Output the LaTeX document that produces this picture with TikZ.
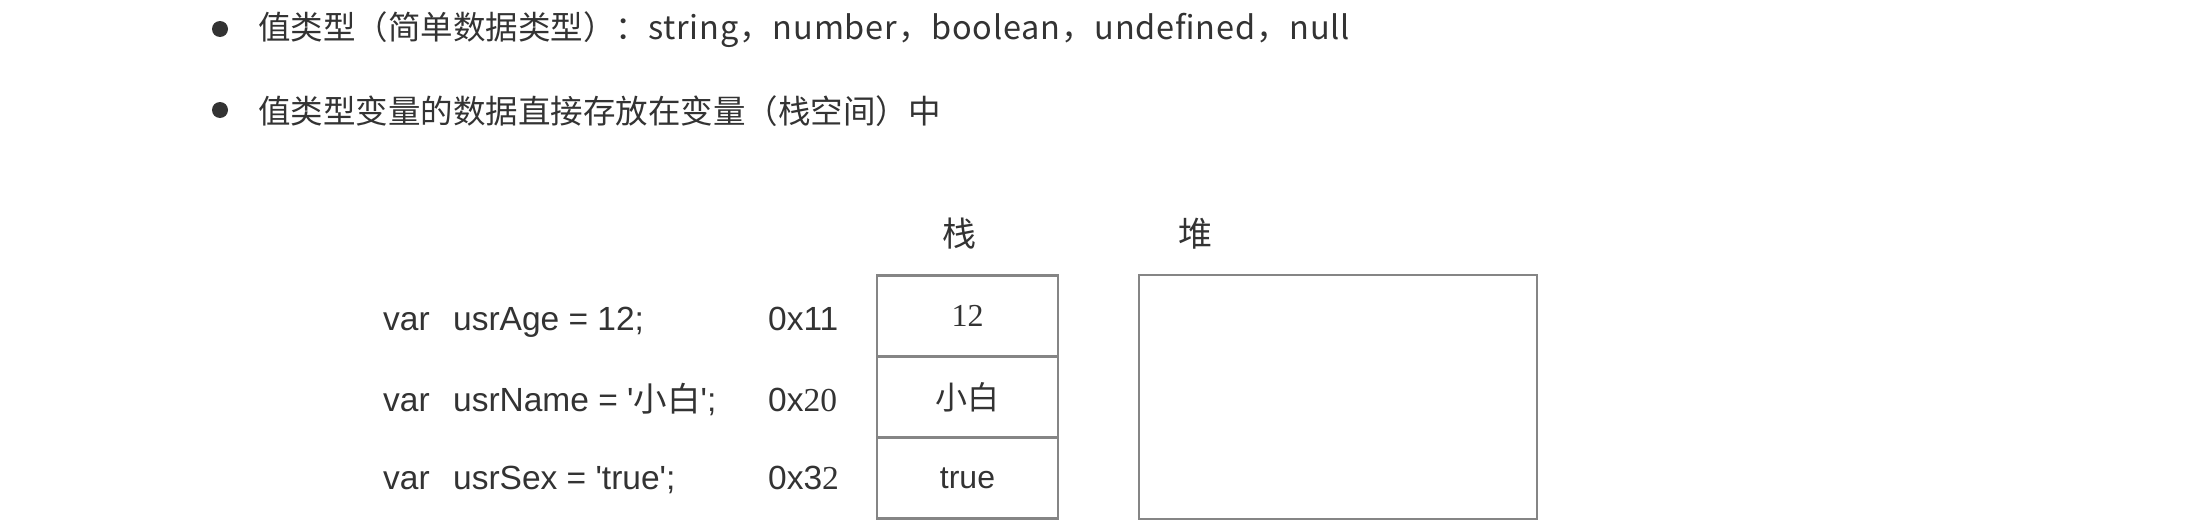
\documentclass[tikz,border=0pt]{standalone}
\usepackage{fontspec}
\setmainfont{Liberation Sans}
\newfontfamily\cjk{Noto Sans CJK SC}
\newfontfamily\sersong{Liberation Serif}
\definecolor{txtgray}{HTML}{333333}
\definecolor{boxgray}{HTML}{858585}
\tikzset{
  cell/.style={draw=boxgray, line width=2.2pt, minimum width=181pt,
               minimum height=81pt, inner sep=0pt},
  code/.style={anchor=base west, inner sep=0pt, text=txtgray,
               font=\fontsize{33.5}{40}\selectfont},
  bullet/.style={circle, fill=txtgray, minimum size=16pt, inner sep=0pt},
  line/.style={anchor=base west, inner sep=0pt, text=txtgray,
               font=\cjk\fontsize{32.5}{38}\selectfont},
  title/.style={inner sep=0pt, text=txtgray, font=\cjk\fontsize{34}{40}\selectfont}
}
\begin{document}
\begin{tikzpicture}[x=1pt, y=-1pt]
            \fill[white] (0,0) rectangle (2210,530);
            % bullets
            \node[bullet] (dot1) at (220,29) {};
            \node[bullet] (dot2) at (220,110) {};
            \node[line] (point1) at (258,39)
              {值类型（简单数据类型）：{\addfontfeatures{LetterSpace=2.5}string，number，boolean，undefined，null}};
            \node[line] (point2) at (258,123)
              {值类型变量的数据直接存放在变量（栈空间）中};
            % stack and heap
            \node[title] (stacktitle) at (959,234) {栈};
            \node[title] (heaptitle) at (1195,234) {堆};
            \foreach \y/\val/\i in {316/{\sersong 12}/1,397/{\cjk 小白}/2,478/true/3}
            \node[cell, font=\fontsize{32}{38}\selectfont, text=txtgray]
              (cell\i) at (967.5,\y) {\val};
            \node[cell, minimum width=398pt, minimum height=244pt] (heap) at (1338,397) {};
            % variables
            \node[code] (var1) at (383,330) {var\hspace{0.7em}usrAge = 12;};
            \node[code] (var2) at (383,411)
              {var\hspace{0.7em}usrName = \textquotesingle{\cjk 小白}\textquotesingle;};
            \node[code] (var3) at (383,489)
              {var\hspace{0.7em}usrSex = \textquotesingle true\textquotesingle;};
            \node[code] (addr1) at (768,330) {0x11};
            \node[code] (addr2) at (768,411) {0x{\sersong 20}};
            \node[code] (addr3) at (768,489) {0x3{\sersong 2}};
\end{tikzpicture}
\end{document}
